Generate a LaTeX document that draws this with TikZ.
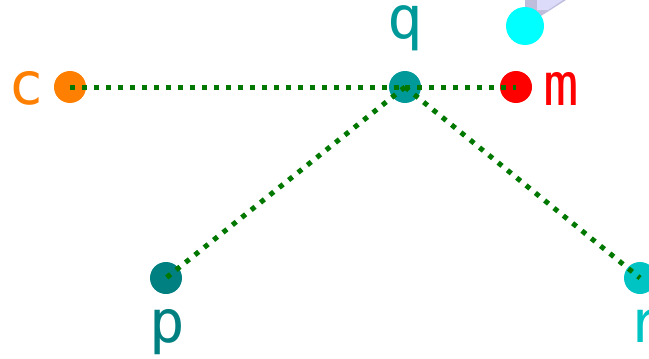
\documentclass[tikz,border=0pt]{standalone}
\usepackage{fontspec}
\setmainfont{DejaVu Sans Mono}
\definecolor{corange}{RGB}{255,128,0}
\definecolor{qteal}{RGB}{0,153,153}
\definecolor{pteal}{RGB}{0,128,128}
\definecolor{rteal}{RGB}{0,196,196}
\definecolor{scyan}{RGB}{0,255,255}
\definecolor{lgreen}{RGB}{0,120,0}
\definecolor{lavlight}{RGB}{220,220,250}
\definecolor{lavdark}{RGB}{190,190,220}
\begin{document}
\begin{tikzpicture}[x=1pt,y=-1pt,
  dot/.style={circle,minimum size=32pt,inner sep=0pt},
  lbl/.style={font=\fontsize{59}{59}\selectfont,inner sep=0pt,anchor=base},
  link/.style={draw=lgreen,line width=5pt,dash pattern=on 5pt off 7pt}]
\useasboundingbox (0,0) rectangle (649,359);
\fill[lavdark] (525,0) -- (525,8) -- (541,16) -- (566,0) -- cycle;
\fill[lavlight] (537,0) -- (537,10) -- (548,10) -- (563,0) -- cycle;
\node[dot,fill=scyan,minimum size=38pt] (s) at (525,26) {};
\node[dot,fill=corange] (c) at (70,87) {};
\node[dot,fill=qteal] (q) at (405,87) {};
\node[dot,fill=red] (m) at (516,87) {};
\node[dot,fill=pteal] (p) at (166,278) {};
\node[dot,fill=rteal] (r) at (640,278) {};
\node[lbl,text=corange] (cl) at (26,104) {c};
\node[lbl,text=qteal] (ql) at (405,38) {q};
\node[lbl,text=red] (ml) at (561,105) {m};
\node[lbl,text=pteal] (pl) at (167,342) {p};
\node[lbl,text=rteal] (rl) at (645,342) {r};
\draw[link] (c.center) -- (q.center);
\draw[link] (q.center) -- (m.center);
\draw[link] (q.center) -- (p.center);
\draw[link] (q.center) -- (r.center);
\end{tikzpicture}
\end{document}
